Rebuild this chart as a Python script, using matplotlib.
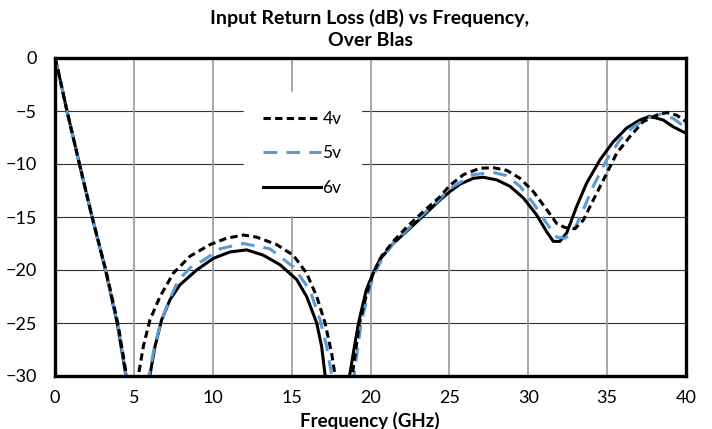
import matplotlib
matplotlib.use("Agg")
import matplotlib.pyplot as plt

# Dados (GHz, dB); pontos abaixo de -30 ficam cortados pelo eixo
f_4v = [0, 0.2, 0.76, 1.55, 2.35, 3.22, 3.98, 4.54, 4.8, 5.0, 5.1,
        5.28, 5.6, 6.02, 6.66, 7.5, 8.56, 9.83, 10.88, 11.94, 12.78, 14.05, 15.1,
        15.95, 16.59, 17.12, 17.54, 17.75, 17.95, 18.3, 18.6,
        18.84, 19.3, 19.8, 20.2, 20.7, 21.5, 22.4, 23.34, 24.4, 25.04, 25.9, 26.94,
        27.78, 28.63, 29.48, 30.32, 31.17, 31.8, 32.33, 32.96, 33.49, 34.12, 34.97,
        35.6, 36.45, 37.29, 38.14, 38.78, 39.41, 40.0]
rl_4v = [0, -1.2, -5, -10, -15, -20, -25, -30, -32.2, -40, -40,
         -30, -27.2, -24.7, -22.5, -20.3, -18.7, -17.6, -17.0, -16.7, -16.9, -17.6, -18.6,
         -20.3, -22.5, -25.0, -27.9, -29.9, -32, -40, -34,
         -30, -25, -22.0, -20.2, -18.7, -17.2, -15.8, -14.5, -13.1, -12.0, -11.0, -10.4,
         -10.35, -10.6, -11.35, -12.6, -14.3, -15.6, -16.0, -16.1, -15.3, -13.4, -10.9,
         -9.0, -7.4, -6.0, -5.4, -5.15, -5.4, -6.0]

f_5v = [0, 0.2, 0.76, 1.55, 2.35, 3.21, 3.96, 4.52, 4.78, 5.3, 5.7,
        5.95, 6.3, 6.7, 7.25, 7.85, 8.7, 9.4, 10.46, 11.94, 13.63, 15.1, 16.16,
        16.8, 17.22, 17.54, 17.75, 18.3, 18.75,
        18.95, 19.41, 19.9, 20.3, 20.8, 21.5, 22.4, 23.3, 24.4, 25.04, 26.52, 27.78,
        28.63, 29.48, 30.32, 31.17, 31.8, 32.33, 32.86, 33.49, 34.12, 34.97, 35.82,
        36.66, 37.5, 38.35, 39.2, 40.0]
rl_5v = [0, -1.2, -5, -10, -15, -20, -25, -30, -32.2, -40, -33,
         -30, -27.3, -25, -22.8, -20.9, -19.6, -19.1, -18.0, -17.5, -18.0, -19.7, -21.9,
         -24.7, -27.2, -29.9, -32, -40, -33,
         -30, -25, -21.9, -20.2, -18.8, -17.4, -16.1, -14.8, -13.3, -12.3, -11.0, -10.8,
         -11.1, -12.1, -13.7, -15.6, -16.9, -17.0, -16.4, -14.3, -12.1, -9.6, -7.7,
         -6.5, -5.7, -5.3, -5.7, -6.6]

f_6v = [0, 0.2, 0.76, 1.55, 2.35, 3.2, 3.94, 4.5, 4.75, 5.3, 5.75,
        6.02, 6.34, 6.76, 7.29, 7.92, 8.98, 10.04, 11.09, 12.15, 13.2, 14.26, 15.32,
        15.95, 16.59, 16.9, 17.12, 17.3, 17.9, 18.45,
        18.67, 18.95, 19.24, 19.73, 20.05, 20.6, 21.44, 22.4, 23.34, 24.4, 25.04, 25.67,
        26.52, 27.15, 28.0, 28.84, 29.69, 30.53, 31.17, 31.59, 32.0, 32.44, 33.07,
        33.7, 34.55, 35.39, 36.24, 37.08, 37.7, 38.56, 39.2, 40.0]
rl_6v = [0, -1.2, -5, -10, -15, -20, -25, -30, -32.2, -40, -33,
         -29.9, -27.2, -24.7, -22.8, -21.4, -20.0, -18.9, -18.3, -18.1, -18.6, -19.5, -20.9,
         -22.5, -25.0, -27.2, -29.9, -32, -40, -33,
         -30, -27.5, -25, -21.9, -20.7, -19.0, -17.5, -16.2, -14.9, -13.4, -12.6, -11.9,
         -11.35, -11.25, -11.5, -12.1, -13.2, -14.8, -16.4, -17.3, -17.3, -16.5, -14.0,
         -11.8, -9.6, -7.9, -6.6, -5.85, -5.5, -5.85, -6.5, -7.1]

x_ticks = [0, 5, 10, 15, 20, 25, 30, 35, 40]
y_ticks = [0, -5, -10, -15, -20, -25, -30]

plt.rcParams["font.family"] = ["Lato", "DejaVu Sans"]

fig = plt.figure(figsize=(7.12, 4.29), dpi=100)
ax = fig.add_axes([55 / 712, 53 / 429, 631 / 712, 318 / 429])

ax.plot(f_4v, rl_4v, color="black", lw=2.2, dashes=(2.4, 1.4), label="4v", zorder=4)
ax.plot(f_5v, rl_5v, color="#5B9BD5", lw=2.2, dashes=(4.5, 3.0), label="5v", zorder=3)
ax.plot(f_6v, rl_6v, color="black", lw=2.2, label="6v", zorder=2)

ax.set_xlim(0, 40)
ax.set_ylim(-30, 0)
ax.set_xticks(x_ticks)
ax.set_yticks(y_ticks)
ax.tick_params(length=0, labelsize=13)
ax.tick_params(axis="x", pad=10)
ax.tick_params(axis="y", pad=13)

# grade: horizontais escuras, verticais cinzas
for y in y_ticks[1:-1]:
    ax.axhline(y, color="#333333", lw=0.8, zorder=1)
for x in x_ticks[1:-1]:
    ax.axvline(x, color="#999999", lw=1.2, zorder=1)

for s in ax.spines.values():
    s.set_linewidth(2.4)
    s.set_zorder(5)

leg = ax.legend(loc="upper left", bbox_to_anchor=(0.3, 0.893), borderaxespad=0,
                frameon=True, fancybox=False, handlelength=3.3, labelspacing=1.05,
                handletextpad=0.1, fontsize=12.5, borderpad=1.1)
leg.get_frame().set_facecolor("white")
leg.get_frame().set_edgecolor("white")
leg.get_frame().set_alpha(1)
leg.set_zorder(6)

fig.text(370 / 712, 1 - 29 / 429, "Input Return Loss (dB) vs Frequency,\nOver Blas",
         ha="center", va="center", fontsize=14, fontweight="bold", linespacing=1.3)
fig.text(370 / 712, 1 - 421 / 429, "Frequency (GHz)", ha="center", va="center",
         fontsize=13.5, fontweight="bold")

fig.savefig("out.png", dpi=100)
